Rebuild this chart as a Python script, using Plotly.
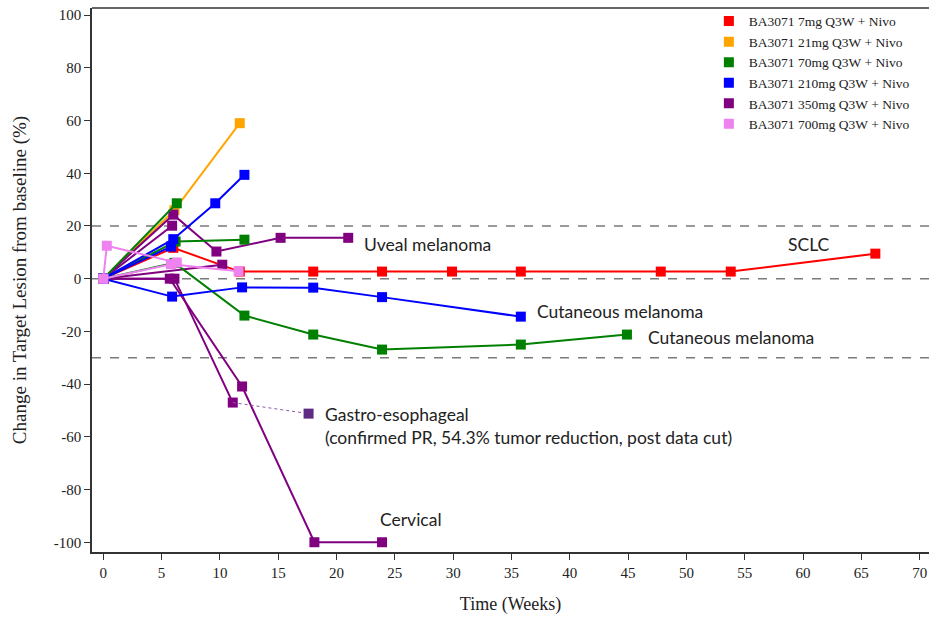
import plotly.graph_objects as go

# ---- data (weeks, % change from baseline) ----
dose_labels = ["BA3071 7mg Q3W + Nivo", "BA3071 21mg Q3W + Nivo", "BA3071 70mg Q3W + Nivo",
               "BA3071 210mg Q3W + Nivo", "BA3071 350mg Q3W + Nivo", "BA3071 700mg Q3W + Nivo"]
dose_colors = ["#FF0000", "#FFA500", "#008000", "#0000FF", "#800080", "#EE82EE"]

red_sclc_x = [0, 6.0, 11.7, 18.0, 23.9, 29.9, 35.8, 47.8, 53.8, 66.2]
red_sclc_y = [0, 11.7, 2.7, 2.7, 2.7, 2.7, 2.7, 2.7, 2.7, 9.5]

orange_a_x = [0, 6.1, 11.7]
orange_a_y = [0, 26.0, 59.0]

green_a_x = [0, 6.3]
green_a_y = [0, 28.6]
green_b_x = [0, 6.2, 12.1]
green_b_y = [0, 14.1, 14.8]
green_c_x = [0, 6.1, 12.1, 18.0, 23.9, 35.8, 44.9]
green_c_y = [0, 6.0, -14.0, -21.2, -26.9, -25.0, -21.2]

blue_a_x = [0, 6.0, 9.6, 12.1]
blue_a_y = [0, 15.0, 28.6, 39.4]
blue_b_x = [0, 5.9, 11.9, 18.0, 23.9, 35.8]
blue_b_y = [0, -6.8, -3.3, -3.4, -7.0, -14.4]
blue_c_x = [0, 5.8]
blue_c_y = [0, 12.2]

purple_a_x = [0, 6.0, 9.7, 15.2, 21.0]
purple_a_y = [0, 24.3, 10.3, 15.5, 15.5]
purple_b_x = [0, 5.9]
purple_b_y = [0, 20.1]
purple_c_x = [0, 10.2]
purple_c_y = [0, 5.3]
purple_cerv_x = [0, 5.7, 11.9, 18.1, 23.9]
purple_cerv_y = [0, 0, -40.9, -100, -100]
purple_gastro_x = [0, 6.1, 11.1]
purple_gastro_y = [0, 0, -47.0]
gastro_post_x = [11.1, 17.6]
gastro_post_y = [-47.0, -51.2]

pink_a_x = [0, 0.3, 6.3]
pink_a_y = [0, 12.5, 6.1]
pink_b_x = [0, 5.8, 11.6]
pink_b_y = [0, 5.5, 2.8]

x_ticks = list(range(0, 75, 5))
y_ticks = list(range(-100, 120, 20))
y_tick_labels = [str(v) for v in y_ticks]
ref_lines = [20, 0, -30]

series = [
    (0, red_sclc_x, red_sclc_y),
    (1, orange_a_x, orange_a_y),
    (4, purple_cerv_x, purple_cerv_y),
    (4, purple_gastro_x, purple_gastro_y),
    (4, purple_a_x, purple_a_y),
    (4, purple_b_x, purple_b_y),
    (4, purple_c_x, purple_c_y),
    (2, green_c_x, green_c_y),
    (2, green_b_x, green_b_y),
    (2, green_a_x, green_a_y),
    (3, blue_b_x, blue_b_y),
    (3, blue_c_x, blue_c_y),
    (3, blue_a_x, blue_a_y),
    (5, pink_b_x, pink_b_y),
    (5, pink_a_x, pink_a_y),
]

fig = go.Figure()

for i, xs, ys in series:
    fig.add_trace(go.Scatter(
        x=xs, y=ys, mode="lines+markers",
        line=dict(color=dose_colors[i], width=2),
        marker=dict(symbol="square", size=10, color=dose_colors[i]),
        showlegend=False, hoverinfo="x+y"))

# post data-cut gastro-esophageal point (dotted)
fig.add_trace(go.Scatter(
    x=gastro_post_x, y=gastro_post_y, mode="lines",
    line=dict(color="#8E5BA6", width=1, dash="dot"), showlegend=False))
fig.add_trace(go.Scatter(
    x=gastro_post_x[1:], y=gastro_post_y[1:], mode="markers",
    marker=dict(symbol="square", size=10, color="#5E2A84"), showlegend=False))

# legend entries
for lab, col in zip(dose_labels, dose_colors):
    fig.add_trace(go.Scatter(
        x=[None], y=[None], mode="markers", name=lab,
        marker=dict(symbol="square", size=10, color=col)))

shapes = []
for v in ref_lines:
    shapes.append(dict(type="line", xref="paper", yref="y", x0=0, x1=1, y0=v, y1=v,
                       line=dict(color="#7A7A7A", width=1.5, dash="dash"), layer="below"))
shapes.append(dict(type="line", xref="paper", yref="paper", x0=0, x1=1, y0=1, y1=1,
                   line=dict(color="#333333", width=1.5)))

ann_font = dict(family="Lato", size=17.5, color="#222222")
annotations = [
    dict(x=22.2, y=12.9, text="Uveal melanoma"),
    dict(x=58.55, y=12.9, text="SCLC"),
    dict(x=37.0, y=-12.5, text="Cutaneous melanoma"),
    dict(x=46.5, y=-22.4, text="Cutaneous melanoma"),
    dict(x=18.84, y=-51.6, text="Gastro-esophageal"),
    dict(x=18.84, y=-60.3, text="(confirmed PR, 54.3% tumor reduction, post data cut)"),
    dict(x=23.56, y=-91.4, text="Cervical"),
]
for a in annotations:
    a.update(xref="x", yref="y", xanchor="left", yanchor="middle", showarrow=False, font=ann_font)

serif = "Liberation Serif"

fig.update_layout(
    width=929, height=617,
    margin=dict(l=92, r=0, t=8, b=65),
    paper_bgcolor="white", plot_bgcolor="white",
    shapes=shapes, annotations=annotations,
    font=dict(family=serif, size=15, color="#222222"),
    legend=dict(x=0.737, y=1.004, xanchor="left", yanchor="top",
                bgcolor="rgba(0,0,0,0)", borderwidth=0,
                font=dict(family=serif, size=13.5, color="#222222"),
                tracegroupgap=0, itemwidth=30),
    xaxis=dict(range=[-0.97, 70.8], tickvals=x_ticks, ticks="outside", ticklen=6,
               tickcolor="#333333", showline=True, linecolor="#333333", linewidth=1.5,
               showgrid=False, zeroline=False, automargin=False, ticklabeloverflow="allow",
               tickfont=dict(family=serif, size=15, color="#222222"),
               title=dict(text="Time (Weeks)", font=dict(family=serif, size=18), standoff=18)),
    yaxis=dict(range=[-103.7, 102.7], tickvals=y_ticks, ticktext=y_tick_labels,
               ticks="outside", ticklen=6,
               tickcolor="#333333", showline=True, linecolor="#333333", linewidth=1.5,
               showgrid=False, zeroline=False, automargin=False,
               tickfont=dict(family=serif, size=15, color="#222222"),
               title=dict(text="Change in Target Lesion from baseline (%)",
                          font=dict(family=serif, size=19), standoff=22)),
)

# remove the browser's default 8px page margin so the figure fills the window
fig.write_html("out.html", config={"displayModeBar": False},
               post_script="document.body.style.margin='0';document.body.style.overflow='hidden';")
